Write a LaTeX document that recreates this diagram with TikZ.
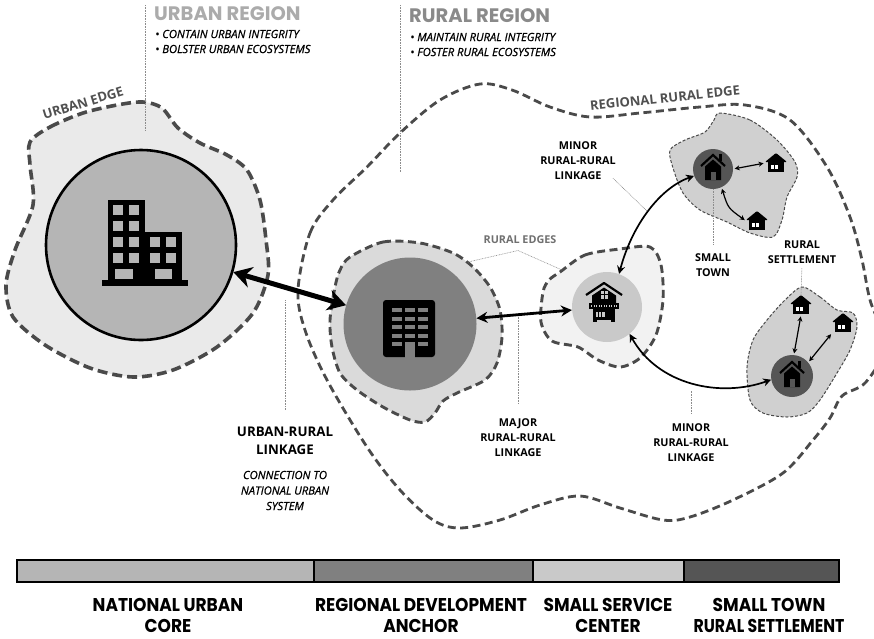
\documentclass[tikz,border=0pt]{standalone}
\usepackage{fontspec}
\usepackage{graphicx}
\setmainfont{Open Sans}
\newfontfamily\titlefont{Poppins}
\newfontfamily\medfont{Open Sans}[FakeBold=0.8]
\usetikzlibrary{arrows.meta}
\definecolor{edgec}{HTML}{4A4A4A}
\definecolor{urbfill}{HTML}{EAEAEA}
\definecolor{corefill}{HTML}{B5B5B5}
\definecolor{anchblob}{HTML}{DADADA}
\definecolor{anchfill}{HTML}{808080}
\definecolor{svcblob}{HTML}{F2F2F2}
\definecolor{svcfill}{HTML}{C9C9C9}
\definecolor{townblob}{HTML}{D0D0D0}
\definecolor{townfill}{HTML}{555555}
\definecolor{urbtitle}{HTML}{ABABAB}
\definecolor{rurtitle}{HTML}{8A8A8A}
\definecolor{leadc}{HTML}{8C8C8C}
\definecolor{edgetxt}{HTML}{505050}
\definecolor{redgetxt}{HTML}{707070}
\newcommand{\sqz}[2][0.92]{\scalebox{#1}[1]{#2}}
\tikzset{
  home/.pic={
    \draw[line width=2.2pt, line join=miter] (-12,-3) -- (0,-14) -- (12,-3);
    \fill (5.5,-15) rectangle (8.5,-8);
    \fill (-8,-2.5) -- (0,-9.5) -- (8,-2.5) -- (8,11) -- (-8,11) -- cycle;
    \fill[townfill] (-2.5,3) rectangle (2.5,11);
  },
  hut/.pic={
    \fill[rounded corners=1pt] (-11,-1) -- (0,-10) -- (11,-1) -- cycle;
    \fill (-8,-1.5) rectangle (8,9);
    \fill[white] (-5,1.5) rectangle (1.5,6);
    \fill (-2.1,1.5) rectangle (-1.3,6);
  }
}
\begin{document}
\begin{tikzpicture}[x=1pt,y=-1pt,
  regedge/.style={draw=edgec, line width=2.8pt, dash pattern=on 8pt off 4.5pt},
  urbedge/.style={draw=edgec, line width=3.6pt, dash pattern=on 10pt off 5pt},
  ruredge/.style={draw=edgec, line width=2.9pt, dash pattern=on 8pt off 4.5pt},
  thinedge/.style={draw=edgec, line width=1pt, dash pattern=on 3pt off 1.8pt},
  leader/.style={draw=leadc, line width=0.6pt, dash pattern=on 0.8pt off 0.8pt},
  lbl/.style={font=\fontsize{10.8}{15}\selectfont\bfseries, align=center, inner sep=0pt},
  biglbl/.style={font=\fontsize{13.3}{18}\selectfont\bfseries, align=center, inner sep=0pt},
  itlbl/.style={font=\medfont\fontsize{11.2}{15.5}\selectfont\itshape, align=center, inner sep=0pt},
  bullets/.style={font=\medfont\fontsize{11.2}{15}\selectfont\itshape, align=left, inner sep=0pt, anchor=west},
  titlestyle/.style={font=\titlefont\bfseries\fontsize{19.5}{22}\selectfont, inner sep=0pt, anchor=west},
  edgelbl/.style={font=\fontsize{13}{15}\selectfont\bfseries, text=edgetxt, inner sep=0pt},
  botlbl/.style={font=\titlefont\bfseries\fontsize{18.5}{21}\selectfont, align=center, inner sep=0pt},
  hutbox/.style={minimum width=22pt, minimum height=20pt, inner sep=0pt, outer sep=0pt},
  bigarrow/.style={line width=5pt, <->, >={Stealth[length=18pt,width=21pt]}},
  medarrow/.style={line width=2.8pt, <->, >={Stealth[length=11pt,width=11pt]}},
  thinarrow/.style={line width=1.7pt, <->, >={Stealth[length=8pt,width=8pt]}},
  tinyarrow/.style={line width=1.2pt, <->, >={Stealth[length=5pt,width=5pt]}, shorten <=1.5pt, shorten >=1.5pt}
]
\useasboundingbox (0,0) rectangle (874,638);

% regional rural edge
\draw[regedge] plot[smooth cycle, tension=0.55] coordinates {
 (298,290) (310,233) (333,200) (367,167) (400,133) (440,100) (480,84) (512,90)
 (550,107) (590,117) (640,113) (700,107) (745,105) (790,120) (827,167) (850,217)
 (862,260) (870,300) (885,345) (866,382) (842,396) (830,418) (813,440) (783,473)
 (733,500) (690,517) (663,520) (620,508) (580,496) (540,505) (500,520) (460,528)
 (433,520) (400,490) (367,447) (327,380) (305,330)};

% urban edge
\filldraw[urbedge, fill=urbfill] plot[smooth cycle, tension=0.5] coordinates {
 (30,142) (50,127) (83,113) (117,105) (143,102) (162,108) (178,128) (200,143)
 (227,155) (247,170) (260,200) (266,240) (268,275) (253,313) (217,347) (173,370)
 (133,377) (90,368) (45,345) (13,317) (6,285) (15,250) (33,205) (30,165)};

% rural edges
\filldraw[ruredge, fill=anchblob] plot[smooth cycle, tension=0.5] coordinates {
 (350,257) (383,242) (420,243) (453,253) (473,267) (490,287) (500,310) (502,337)
 (497,363) (485,380) (457,393) (443,401) (435,413) (425,422) (410,420) (383,407)
 (357,390) (340,373) (332,347) (330,320) (335,287) (340,270)};
\filldraw[ruredge, fill=svcblob] plot[smooth cycle, tension=0.5] coordinates {
 (560,272) (585,255) (620,249) (650,247) (661,265) (663,300) (656,335) (640,358)
 (620,367) (598,360) (578,347) (552,341) (541,322) (543,292) (549,280)};
\filldraw[thinedge, fill=townblob] plot[smooth cycle, tension=0.5] coordinates {
 (720,113) (750,120) (777,140) (795,162) (797,177) (787,197) (782,220) (773,237)
 (750,233) (727,222) (700,210) (683,193) (673,168) (670,150) (685,140) (705,132) (714,120)};
\filldraw[thinedge, fill=townblob] plot[smooth cycle, tension=0.5] coordinates {
 (802,287) (820,297) (837,310) (853,313) (857,327) (850,350) (837,373) (820,400)
 (807,413) (787,417) (763,413) (750,400) (747,367) (753,340) (767,320) (785,300)};

% main nodes
\node[circle, draw=black, line width=2.6pt, fill=corefill, minimum size=190pt, inner sep=0pt] (uc) at (141,245) {};
\node[circle, fill=anchfill, minimum size=133pt, inner sep=0pt] (ra) at (410,324) {};
\node[circle, fill=svcfill, minimum size=70pt, inner sep=0pt] (ssc) at (607,307) {};
\node[circle, fill=townfill, minimum size=40pt, inner sep=0pt] (st) at (713,169) {};
\node[circle, fill=townfill, minimum size=42pt, inner sep=0pt] (sc) at (792,376) {};
\node[hutbox] (h1) at (776,163) {};
\node[hutbox] (h2) at (757,221) {};
\node[hutbox] (h3) at (801,305) {};
\node[hutbox] (h4) at (843,323) {};

% urban core building
\fill (108,200) rectangle (145,282);
\fill (145,232) rectangle (182,282);
\fill (102,280) rectangle (188,285.5);
\foreach \yy in {205,221,237,253} {
  \fill[corefill] (113,\yy) rectangle ++(10,10);
  \fill[corefill] (129,\yy) rectangle ++(10,10);
}
\foreach \yy in {237,253} {
  \fill[corefill] (150,\yy) rectangle ++(10,10);
  \fill[corefill] (166,\yy) rectangle ++(10,10);
}
\fill[corefill] (115,269) rectangle (133,279);
\fill[corefill] (155,269) rectangle (172,279);

% office building
\fill[rounded corners=3pt] (383,300) rectangle (435,357);
\foreach \yy in {308,316.5,325,333.5} {
  \foreach \xx in {392,405,418} { \fill[anchfill] (\xx,\yy) rectangle ++(10,4); }
}
\fill[anchfill] (392,342) rectangle ++(10,4);
\fill[anchfill] (418,342) rectangle ++(10,4);
\fill[anchfill] (405,342) rectangle (415,357.5);

% chalet
\draw[line width=2.2pt, line join=round] (586,295) -- (604,283) -- (622,295);
\fill (592,295.5) -- (604,287.5) -- (616,295.5) -- (616,303) -- (592,303) -- cycle;
\fill[svcfill] (600.5,291) rectangle (607.5,298.5);
\draw[line width=0.9pt] (604,291) -- (604,298.5) (600.5,294.7) -- (607.5,294.7);
\fill (589,303) rectangle (619,309);
\foreach \xx in {591,593.5,...,616.5} { \fill[svcfill] (\xx,305.2) rectangle ++(1.2,1.6); }
\fill (593,309) rectangle (615,322);
\fill[svcfill] (595.5,311.5) rectangle (604.5,316.5);
\draw[line width=0.9pt] (598.5,311.5) -- (598.5,316.5) (601.5,311.5) -- (601.5,316.5);
\fill[svcfill] (597,320) rectangle (611,322.5);

% houses
\pic at (st) {home};
\pic at (sc) {home};
\pic at (h1) {hut};
\pic at (h2) {hut};
\pic at (h3) {hut};
\pic at (h4) {hut};

% header leaders
\coordinate (hl1t) at (145,5);  \coordinate (hl1b) at (145,130);
\coordinate (hl2t) at (400,5);  \coordinate (hl2b) at (400,172);
\draw[leader] (hl1t) -- (hl1b);
\draw[leader] (hl2t) -- (hl2b);

% arrows
\draw[bigarrow] (uc) -- (ra);
\draw[medarrow] (ra) -- (ssc);
\draw[thinarrow] (ssc.70) .. controls (632,225) and (660,188) .. (st.200);
\draw[thinarrow] (ssc.-50) .. controls (658,385) and (720,398) .. (sc.190);
\draw[tinyarrow] (st.east) -- (h1.west);
\draw[tinyarrow] (st.-65) .. controls (728,208) .. (h2.west);
\draw[tinyarrow] (sc.85) -- (h3.south);
\draw[tinyarrow] (sc.40) -- (h4.south west);

% header texts
\node[titlestyle, text=urbtitle] (urt) at (154,14) {URBAN REGION};
\node[bullets] (urb) at (155,41.5) {• CONTAIN URBAN INTEGRITY\\• BOLSTER URBAN ECOSYSTEMS};
\node[titlestyle, text=rurtitle] (rrt) at (409,16) {RURAL REGION};
\node[bullets] (rrb) at (410,44.5) {• MAINTAIN RURAL INTEGRITY\\• FOSTER RURAL ECOSYSTEMS};

% edge labels
\node[edgelbl, rotate=17] (ue) at (83,103) {URBAN EDGE};
\node[edgelbl, rotate=6] (rre) at (665,98) {REGIONAL RURAL EDGE};

% labels
\node[lbl] (mn1) at (578,161) {MINOR\\RURAL-RURAL\\LINKAGE};
\coordinate (lk1) at (647,211);
\draw[leader] ([xshift=-3pt,yshift=2pt]mn1.south east) -- (lk1);

\node[lbl, text=redgetxt] (re) at (520,240) {RURAL EDGES};
\coordinate (rea) at (518,250.5);
\coordinate (rel) at (468,262);
\coordinate (rer) at (562,270);
\draw[leader] (rel) -- (rea) -- (rer);

\node[lbl] (mj) at (518,438) {MAJOR\\RURAL-RURAL\\LINKAGE};
\coordinate (mjt) at (518,316);
\draw[leader, shorten <=15pt] (mj.north) -- (mjt);

\node[lbl] (mn2) at (691,443) {MINOR\\RURAL-RURAL\\LINKAGE};
\coordinate (mn2t) at (691,390);
\draw[leader, shorten <=10pt] (mn2.north) -- (mn2t);

\node[lbl] (stl) at (713,265) {SMALL\\TOWN};
\draw[leader, shorten >=9pt] (st.south) -- (stl.north);
\node[lbl] (rsl) at (802,252.5) {RURAL\\SETTLEMENT};
\draw[leader, shorten <=4pt] (rsl.south) -- (h3.north);

\node[biglbl] (url) at (285,441) {URBAN-RURAL\\LINKAGE};
\coordinate (urlt) at (285,300);
\draw[leader, shorten <=17pt] (url.north) -- (urlt);
\node[itlbl] (con) at (285,490.5) {CONNECTION TO\\NATIONAL URBAN\\SYSTEM};

% bottom bar
\filldraw[fill=corefill, draw=black, line width=1.8pt] (17,560) rectangle (314,582);
\filldraw[fill=anchfill, draw=black, line width=1.8pt] (314,560) rectangle (533,582);
\filldraw[fill=svcfill, draw=black, line width=1.8pt] (533,560) rectangle (684,582);
\filldraw[fill=townfill, draw=black, line width=1.8pt] (684,560) rectangle (839,582);

\node[botlbl] (b1) at (168,615.5) {\sqz{NATIONAL URBAN}\\\sqz{CORE}};
\node[botlbl] (b2) at (421,615.5) {\sqz{REGIONAL DEVELOPMENT}\\\sqz{ANCHOR}};
\node[botlbl] (b3) at (608,615.5) {\sqz{SMALL SERVICE}\\\sqz{CENTER}};
\node[botlbl] (b4) at (769,615.5) {\sqz{SMALL TOWN}\\\sqz[0.85]{RURAL SETTLEMENT}};
\end{tikzpicture}
\end{document}
